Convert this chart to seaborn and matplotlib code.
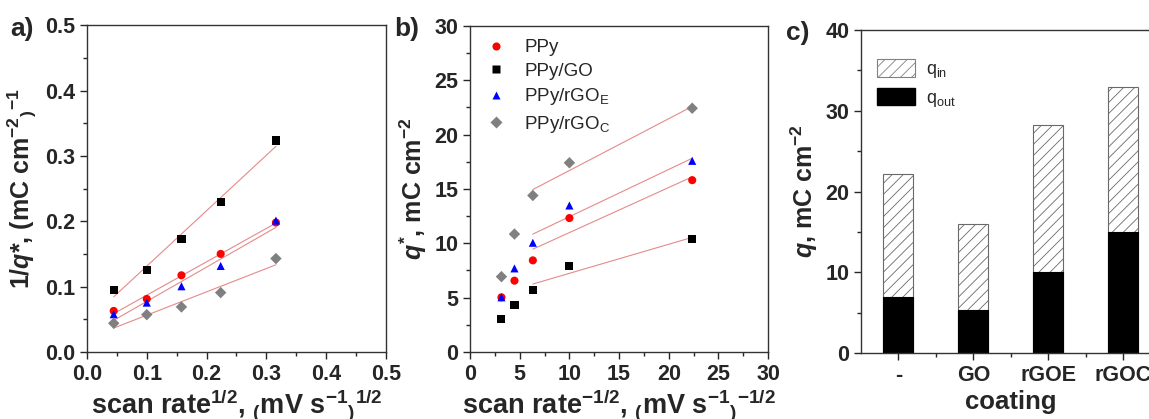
import numpy as np
import pandas as pd
import seaborn as sns
import matplotlib.pyplot as plt
from matplotlib.patches import Patch
from matplotlib.ticker import MultipleLocator, FixedLocator

# panel a / b data (scan rate 2, 10, 25, 50, 100 mV/s)
sqrt_rate = [0.0447, 0.1, 0.158, 0.2236, 0.316]
inv_sqrt_rate = [22.36, 10.0, 6.32, 4.47, 3.16]
series = ["PPy", "PPy/GO", "PPy/rGO$_E$", "PPy/rGO$_C$"]
inv_q = {
    "PPy": [0.0628, 0.0811, 0.1173, 0.150, 0.198],
    "PPy/GO": [0.0954, 0.126, 0.173, 0.229, 0.3235],
    "PPy/rGO$_E$": [0.0577, 0.0755, 0.1005, 0.1316, 0.201],
    "PPy/rGO$_C$": [0.0439, 0.0571, 0.0689, 0.0908, 0.1429],
}
q_star = {
    "PPy": [15.81, 12.32, 8.43, 6.56, 5.03],
    "PPy/GO": [10.39, 7.91, 5.73, 4.29, 3.03],
    "PPy/rGO$_E$": [17.59, 13.48, 10.05, 7.69, 5.03],
    "PPy/rGO$_C$": [22.43, 17.41, 14.40, 10.85, 6.93],
}
# panel c data
coating = ["-", "GO", "rGOE", "rGOC"]
q_total = [22.2, 16.0, 28.2, 32.9]
q_out = [6.9, 5.3, 10.0, 15.0]

colors = {"PPy": "red", "PPy/GO": "black", "PPy/rGO$_E$": "blue", "PPy/rGO$_C$": "gray"}
markers = {"PPy": "o", "PPy/GO": "s", "PPy/rGO$_E$": "^", "PPy/rGO$_C$": "D"}
fit_color = "#e58a8a"

sns.set_style("ticks")
plt.rcParams["font.family"] = ["Liberation Sans", "DejaVu Sans"]
plt.rcParams["font.weight"] = "bold"
plt.rcParams["axes.labelweight"] = "bold"
plt.rcParams["mathtext.fontset"] = "custom"
plt.rcParams["mathtext.default"] = "regular"
plt.rcParams["mathtext.rm"] = "Liberation Sans"
plt.rcParams["mathtext.bf"] = "Liberation Sans:bold"
plt.rcParams["mathtext.it"] = "Liberation Sans:italic:bold"
plt.rcParams["hatch.linewidth"] = 0.6
plt.rcParams["hatch.color"] = "gray"
plt.rcParams["axes.linewidth"] = 1.0
plt.rcParams["axes.edgecolor"] = "#333333"

df_a = pd.DataFrame([(x, v, s) for s in series for x, v in zip(sqrt_rate, inv_q[s])],
                    columns=["x", "y", "sample"])
df_b = pd.DataFrame([(x, v, s) for s in series for x, v in zip(inv_sqrt_rate, q_star[s])],
                    columns=["x", "y", "sample"])

fig = plt.figure(figsize=(11.49, 4.19), dpi=100)
ax_a = fig.add_axes([0.0757, 0.160, 0.2602, 0.780])
ax_b = fig.add_axes([0.4091, 0.160, 0.2594, 0.778])
ax_c = fig.add_axes([0.7493, 0.1575, 0.2611, 0.7709])

tick_fs = 15.5
label_fs = 18
xlabel_fs = 19.5

# ---- a)
for s in series:
    d = df_a[df_a["sample"] == s]
    sns.regplot(data=d, x="x", y="y", scatter=False, ci=None, ax=ax_a,
                line_kws=dict(color=fit_color, lw=0.8))
sns.scatterplot(data=df_a, x="x", y="y", hue="sample", style="sample", hue_order=series,
                style_order=series, palette=colors, markers=markers, s=34,
                edgecolor="none", legend=False, ax=ax_a, zorder=3)
ax_a.set_xlim(0, 0.5)
ax_a.set_ylim(0, 0.5)
ax_a.xaxis.set_major_locator(MultipleLocator(0.1))
ax_a.xaxis.set_minor_locator(MultipleLocator(0.05))
ax_a.yaxis.set_major_locator(MultipleLocator(0.1))
ax_a.yaxis.set_minor_locator(MultipleLocator(0.05))
ax_a.set_xlabel(r"scan rate$^{\mathbf{1/2}}$, $_{\mathbf{(}}$mV s$^{\mathbf{-1}}$"
                r"$_{\mathbf{)}}$$^{\mathbf{1/2}}$", fontsize=xlabel_fs, labelpad=2)
ax_a.set_ylabel(r"1/$\mathit{q}$*, (mC cm$^{\mathbf{-2}}$$_{\mathbf{)}}$$^{\mathbf{-1}}$",
                fontsize=label_fs)

# ---- b)
for s in series:
    d = df_b[df_b["sample"] == s].head(3)
    sns.regplot(data=d, x="x", y="y", scatter=False, ci=None, ax=ax_b,
                line_kws=dict(color=fit_color, lw=0.8))
sns.scatterplot(data=df_b, x="x", y="y", hue="sample", style="sample", hue_order=series,
                style_order=series, palette=colors, markers=markers, s=34,
                edgecolor="none", ax=ax_b, zorder=3)
sns.move_legend(ax_b, "upper left", bbox_to_anchor=(-0.02, 1.0), frameon=False, title=None,
                prop=dict(size=13.5, weight="normal"), handletextpad=0.5,
                labelspacing=0.35, borderaxespad=0.3)
ax_b.set_xlim(0, 30)
ax_b.set_ylim(0, 30)
ax_b.xaxis.set_major_locator(MultipleLocator(5))
ax_b.xaxis.set_minor_locator(MultipleLocator(2.5))
ax_b.yaxis.set_major_locator(MultipleLocator(5))
ax_b.yaxis.set_minor_locator(MultipleLocator(2.5))
ax_b.set_xlabel(r"scan rate$^{\mathbf{-1/2}}$, $_{\mathbf{(}}$mV s$^{\mathbf{-1}}$"
                r"$_{\mathbf{)}}$$^{\mathbf{-1/2}}$", fontsize=xlabel_fs, labelpad=2)
ax_b.set_ylabel(r"$\mathit{q}^{\mathbf{*}}$, mC cm$^{\mathbf{-2}}$", fontsize=label_fs)

# ---- c)
sns.barplot(x=coating, y=q_total, color="white", edgecolor="dimgray", hatch="///",
            linewidth=0.8, width=0.4, ax=ax_c)
sns.barplot(x=coating, y=q_out, color="black", edgecolor="black", linewidth=0.8,
            width=0.4, ax=ax_c)
ax_c.set_xlim(-0.5, 3.5)
ax_c.set_ylim(0, 40)
ax_c.yaxis.set_major_locator(MultipleLocator(10))
ax_c.yaxis.set_minor_locator(MultipleLocator(5))
ax_c.xaxis.set_minor_locator(FixedLocator([0.5, 1.5, 2.5]))
ax_c.set_xlabel("coating", fontsize=label_fs + 0.5, labelpad=3)
ax_c.set_ylabel(r"$\mathit{q}$, mC cm$^{\mathbf{-2}}$", fontsize=label_fs)
handles = [Patch(facecolor="white", edgecolor="gray", hatch="///", linewidth=0.8),
           Patch(facecolor="black", edgecolor="black")]
ax_c.legend(handles, ["q$_{in}$", "q$_{out}$"], loc="upper left", frameon=False,
            prop=dict(size=13, weight="normal"), handlelength=2.1, handleheight=1.1,
            labelspacing=0.45, handletextpad=0.6, bbox_to_anchor=(0.0, 0.96))

for ax in (ax_a, ax_b, ax_c):
    for sp in ax.spines.values():
        sp.set_visible(True)
    ax.tick_params(which="major", direction="out", length=5, width=1, labelsize=tick_fs)
    ax.tick_params(which="minor", direction="out", length=3, width=1)

fig.text(0.009, 0.915, "a)", fontsize=19, weight="bold")
fig.text(0.343, 0.915, "b)", fontsize=19, weight="bold")
fig.text(0.684, 0.905, "c)", fontsize=19, weight="bold")

fig.savefig("out.png", dpi=100)
